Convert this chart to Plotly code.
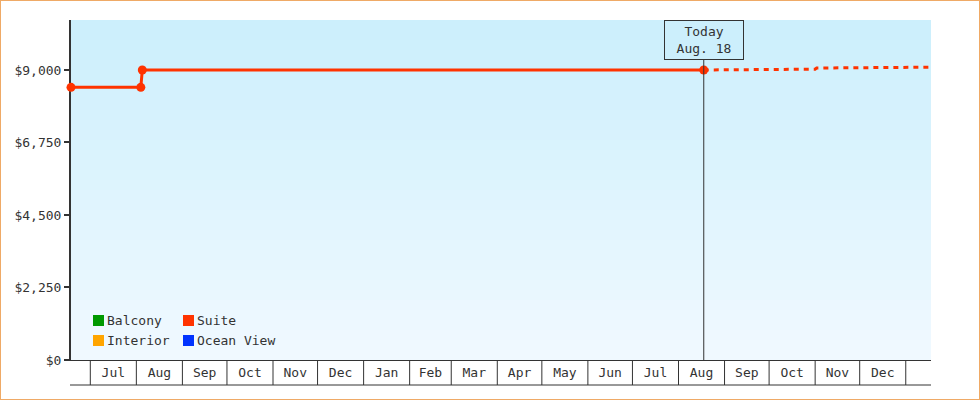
import pandas as pd
import plotly.graph_objects as go

# Suite price history and forecast
SUITE_DATES = ["2022-06-18", "2022-08-04", "2022-08-05", "2023-08-18"]
SUITE_PRICES = [8460, 8460, 9000, 9000]
FORECAST_DATES = ["2023-08-18", "2023-11-01", "2023-11-02", "2024-01-18"]
FORECAST_PRICES = [9000, 9025, 9060, 9085]

TODAY = "2023-08-18"
TODAY_LABEL = "Today<br>Aug. 18"
X_RANGE = ["2022-06-18", "2024-01-18"]
MONTH_STARTS = ["2022-07-01", "2022-08-01", "2022-09-01", "2022-10-01", "2022-11-01",
                "2022-12-01", "2023-01-01", "2023-02-01", "2023-03-01", "2023-04-01",
                "2023-05-01", "2023-06-01", "2023-07-01", "2023-08-01", "2023-09-01",
                "2023-10-01", "2023-11-01", "2023-12-01", "2024-01-01"]
MONTH_LABELS = ["Jul", "Aug", "Sep", "Oct", "Nov", "Dec", "Jan", "Feb", "Mar", "Apr",
                "May", "Jun", "Jul", "Aug", "Sep", "Oct", "Nov", "Dec"]
Y_TICKS = [0, 2250, 4500, 6750, 9000]
Y_MAX = 10550

CABIN_TYPES = ["Balcony", "Suite", "Interior", "Ocean View"]
CABIN_COLORS = ["#009900", "#ff3300", "#ffa500", "#0033ff"]

W, H = 980, 400
L, R, T, B = 71, 49, 20, 40
PW, PH = W - L - R, H - T - B
FONT = "DejaVu Sans Mono"
INK = "#333333"


def px_x(x):
    return (x - L) / PW


def px_y(y):
    return (H - B - y) / PH


# label each month in the middle of its cell
starts = pd.to_datetime(MONTH_STARTS)
label_pos = [a + (b - a) / 2 for a, b in zip(starts[:-1], starts[1:])]

fig = go.Figure()

fig.add_trace(go.Scatter(
    x=SUITE_DATES, y=SUITE_PRICES, mode="lines+markers",
    line=dict(color=CABIN_COLORS[1], width=3),
    marker=dict(color=CABIN_COLORS[1], size=9),
    cliponaxis=False, showlegend=False, name="Suite",
))
fig.add_trace(go.Scatter(
    x=FORECAST_DATES, y=FORECAST_PRICES, mode="lines",
    line=dict(color=CABIN_COLORS[1], width=3, dash="5px,5px"),
    showlegend=False, name="Suite forecast",
))

shapes = []

# background gradient
top = (204, 239, 252)
bottom = (240, 249, 255)
bands = 34
for i in range(bands):
    f = i / (bands - 1)
    c = tuple(round(bottom[k] + (top[k] - bottom[k]) * f) for k in range(3))
    shapes.append(dict(type="rect", xref="paper", yref="paper", x0=0, x1=1,
                       y0=i / bands, y1=(i + 1) / bands, layer="below",
                       line=dict(width=0), fillcolor="rgb(%d,%d,%d)" % c))

# month cell borders under the axis
for d in MONTH_STARTS:
    shapes.append(dict(type="line", xref="x", yref="paper", x0=d, x1=d,
                       y0=0, y1=px_y(385), line=dict(color=INK, width=1)))

# today line
shapes.append(dict(type="line", xref="x", yref="paper", x0=TODAY, x1=TODAY,
                   y0=0, y1=1, line=dict(color=INK, width=1)))

# bottom line under month cells
shapes.append(dict(type="line", xref="paper", yref="paper", x0=px_x(70), x1=1,
                   y0=px_y(385), y1=px_y(385), line=dict(color=INK, width=1)))

# outer border
shapes.append(dict(type="rect", xref="paper", yref="paper",
                   x0=px_x(0), x1=px_x(W), y0=px_y(H), y1=px_y(0),
                   line=dict(color="#efaa66", width=2)))

annotations = [dict(
    x=TODAY, xref="x", y=1, yref="paper", yanchor="top", xanchor="center",
    text=TODAY_LABEL, showarrow=False, align="center",
    font=dict(family=FONT, size=13, color=INK),
    bgcolor="rgb(204,239,252)", bordercolor=INK, borderwidth=1, borderpad=2,
    width=74, height=34,
)]

# legend drawn by hand: two columns
for i, (name, color) in enumerate(zip(CABIN_TYPES, CABIN_COLORS)):
    col, row = i % 2, i // 2
    sx = 93 + col * 90
    sy = 315 + row * 20
    shapes.append(dict(type="rect", xref="paper", yref="paper",
                       x0=px_x(sx), x1=px_x(sx + 11), y0=px_y(sy + 11), y1=px_y(sy),
                       fillcolor=color, line=dict(width=0)))
    annotations.append(dict(
        x=px_x(sx + 12), y=px_y(sy + 5.5), xref="paper", yref="paper",
        xanchor="left", yanchor="middle", text=name, showarrow=False,
        font=dict(family=FONT, size=13, color=INK),
    ))

fig.update_layout(
    width=W, height=H,
    margin=dict(l=L, r=R, t=T, b=B),
    paper_bgcolor="white", plot_bgcolor="rgb(240,249,255)",
    font=dict(family=FONT, size=13, color=INK),
    shapes=shapes, annotations=annotations,
    showlegend=False,
)
fig.update_xaxes(
    type="date", range=X_RANGE, showgrid=False, zeroline=False,
    showline=True, linecolor=INK, linewidth=1,
    tickmode="array", tickvals=label_pos, ticktext=MONTH_LABELS,
    ticks="", ticklabelstandoff=0,
    tickfont=dict(family=FONT, size=13, color=INK),
)
fig.update_yaxes(
    range=[0, Y_MAX], tickvals=Y_TICKS, tickformat="$,",
    showgrid=False, zeroline=False, showline=True, linecolor=INK, linewidth=2,
    ticks="outside", ticklen=5, tickwidth=2, tickcolor=INK,
    layer="below traces",
    tickfont=dict(family=FONT, size=13, color=INK),
)

fig.write_html("out.html", config={"displayModeBar": False},
               post_script="document.body.style.margin='0';")
